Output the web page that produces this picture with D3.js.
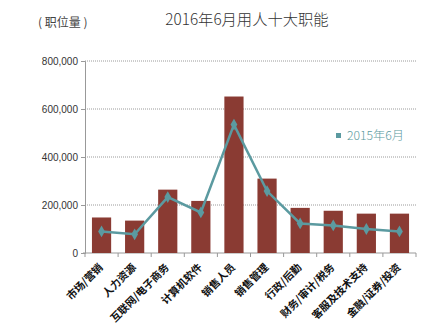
<!DOCTYPE html>
<html>
<head>
<meta charset="utf-8">
<script src="https://cdn.jsdelivr.net/npm/d3@7/dist/d3.min.js"></script>
<style>
  html, body { margin: 0; padding: 0; background: #fff; }
  svg { display: block; font-family: "Noto Sans CJK SC", "Noto Sans", sans-serif; }
</style>
</head>
<body>
<svg id="chart" width="443" height="330"></svg>
<script>
// Top ten job functions by openings, June 2016 (bars) vs June 2015 (line)
const categories = ["市场/营销", "人力资源", "互联网/电子商务", "计算机软件", "销售人员",
                    "销售管理", "行政/后勤", "财务/审计/税务", "客服及技术支持", "金融/证券/投资"];
const values2016 = [148000, 135000, 264000, 217000, 652000, 310000, 188000, 176000, 164000, 164000];
const values2015 = [90000, 78000, 233000, 169000, 535000, 258000, 123000, 115000, 100000, 90000];
const yTicks = [0, 200000, 400000, 600000, 800000];

const title = "2016年6月用人十大职能";
const yLabel = "( 职位量 )";
const legendLabel = "2015年6月";

const barColor = "#8a3b33";
const lineColor = "#5b9aa0";

const svg = d3.select("#chart");
const margin = { left: 85, right: 27, top: 61, bottom: 77 };
const W = 443, H = 330;

const x = d3.scaleBand().domain(categories).range([margin.left, W - margin.right]).paddingInner(0.42).paddingOuter(0.21);
const xBound = d3.scaleBand().domain(categories).range([margin.left, W - margin.right]);
const y = d3.scaleLinear().domain([0, 800000]).range([H - margin.bottom, margin.top]);

// gridlines
svg.append("g").selectAll("line").data(yTicks.filter(d => d > 0)).join("line")
  .attr("x1", margin.left).attr("x2", W - margin.right)
  .attr("y1", d => y(d)).attr("y2", d => y(d))
  .attr("stroke", "#9a9a9a").attr("stroke-width", 1).attr("stroke-dasharray", "1,1");

// y axis
const yAxis = svg.append("g").attr("transform", `translate(${margin.left},0)`)
  .call(d3.axisLeft(y).tickValues(yTicks).tickSize(4).tickFormat(d3.format(",")));
yAxis.select(".domain").attr("stroke", "#999");
yAxis.selectAll(".tick line").attr("stroke", "#999");
yAxis.selectAll(".tick text").attr("fill", "#333").attr("font-size", 10)
  .attr("font-family", "'Liberation Sans', Arial, sans-serif").attr("x", -7);

// x axis with ticks at category boundaries
const xAxisG = svg.append("g").attr("transform", `translate(0,${y(0)})`);
xAxisG.append("line").attr("x1", margin.left - 2).attr("x2", W - margin.right)
  .attr("stroke", "#999");
const bounds = categories.map(c => xBound(c)).concat([W - margin.right]);
xAxisG.selectAll("line.tk").data(bounds).join("line").attr("class", "tk")
  .attr("x1", d => d).attr("x2", d => d).attr("y1", 0).attr("y2", 4).attr("stroke", "#999");

// bars
svg.append("g").selectAll("rect").data(values2016).join("rect")
  .attr("x", (d, i) => x(categories[i]))
  .attr("width", x.bandwidth())
  .attr("y", d => y(d))
  .attr("height", d => y(0) - y(d))
  .attr("fill", barColor);

// 2015 line
const line = d3.line().x((d, i) => x(categories[i]) + x.bandwidth() / 2).y(d => y(d));
svg.append("path").datum(values2015).attr("d", line)
  .attr("fill", "none").attr("stroke", lineColor).attr("stroke-width", 2.5);
svg.append("g").selectAll("path").data(values2015).join("path")
  .attr("d", d3.symbol().type(d3.symbolDiamond).size(40))
  .attr("transform", (d, i) => `translate(${x(categories[i]) + x.bandwidth() / 2},${y(d)})`)
  .attr("fill", lineColor);

// category labels
svg.append("g").selectAll("text").data(categories).join("text")
  .attr("transform", d => `translate(${x(d) + x.bandwidth() / 2 + 2},${y(0) + 15}) rotate(-45)`)
  .attr("text-anchor", "end")
  .attr("font-size", 10.5).attr("font-weight", "bold").attr("fill", "#111")
  .text(d => d);

// title and axis label
svg.append("text").attr("x", 247).attr("y", 25).attr("text-anchor", "middle")
  .attr("font-size", 15.3).attr("font-weight", 300).attr("fill", "#333").text(title);
svg.append("text").attr("x", 38).attr("y", 27)
  .attr("font-size", 12).attr("fill", "#444").attr("xml:space", "preserve").text(yLabel);

// legend
const lg = svg.append("g").attr("transform", "translate(336,136)");
lg.append("rect").attr("x", 0).attr("y", -3).attr("width", 5).attr("height", 5).attr("fill", lineColor);
lg.append("text").attr("x", 11).attr("y", 4).attr("font-size", 12.2).attr("fill", lineColor)
  .attr("font-weight", 300).text(legendLabel);
</script>
</body>
</html>
